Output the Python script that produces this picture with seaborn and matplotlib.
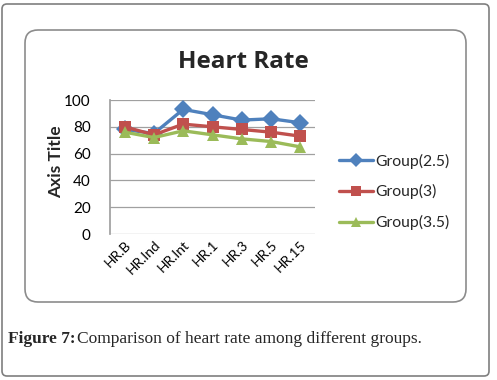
import pandas as pd
import seaborn as sns
import matplotlib.pyplot as plt
from matplotlib.patches import FancyBboxPatch
from matplotlib.transforms import IdentityTransform

categories = ["HR.B", "HR.Ind", "HR.Int", "HR.1", "HR.3", "HR.5", "HR.15"]
group_25 = [78, 75, 93, 89, 85, 86, 83]
group_3 = [80, 74, 82, 80, 78, 76, 73]
group_35 = [76, 72, 77, 74, 71, 69, 65]
series_names = ["Group(2.5)", "Group(3)", "Group(3.5)"]

rows = []
for name, vals in zip(series_names, [group_25, group_3, group_35]):
    for c, v in zip(categories, vals):
        rows.append({"cat": c, "value": v, "group": name})
df = pd.DataFrame(rows)

sns.set_theme(style="white")
plt.rcParams['font.family'] = ['Lato', 'DejaVu Sans']

W, H = 497, 380
fig = plt.figure(figsize=(W / 100, H / 100), dpi=100)

# outer frame and inner chart box (pixel coords)
outer = FancyBboxPatch((2, 4), 487, 372, boxstyle="round,pad=0,rounding_size=5",
                       transform=IdentityTransform(), fill=False, edgecolor="#7f7f7f", lw=1.2)
inner = FancyBboxPatch((25, 78), 441, 272, boxstyle="round,pad=0,rounding_size=13",
                       transform=IdentityTransform(), fill=False, edgecolor="#8c8c8c", lw=1.2)
fig.patches.extend([outer, inner])

ax = fig.add_axes([110 / W, (H - 234) / H, 205 / W, 134 / H])
palette = {"Group(2.5)": "#4F81BD", "Group(3)": "#C0504D", "Group(3.5)": "#9BBB59"}
markers = {"Group(2.5)": "D", "Group(3)": "s", "Group(3.5)": "^"}
sns.lineplot(data=df, x="cat", y="value", hue="group", style="group", markers=markers,
             dashes=False, palette=palette, linewidth=2.4, markersize=9,
             markeredgewidth=0, sort=False, ax=ax)

ax.set_ylim(0, 100)
ax.set_yticks(range(0, 101, 20))
ax.set_xlim(-0.5, len(categories) - 0.5)
ax.grid(axis="y", color="#a0a0a0", lw=0.9)
for s in ["top", "right", "bottom"]:
    ax.spines[s].set_visible(False)
ax.spines["left"].set_color("#a0a0a0")
ax.tick_params(axis="both", length=0, labelsize=11, colors="black")
ax.tick_params(axis="y", pad=14)
plt.setp(ax.get_xticklabels(), rotation=45, ha="right", rotation_mode="anchor", fontsize=10)
ax.set_xlabel("")
ax.set_ylabel("Axis Title", fontsize=12.5, fontweight="bold")
ax.yaxis.set_label_coords(-0.222, 0.54)

leg = ax.legend(loc="center left", bbox_to_anchor=(1.046, 0.315), frameon=False,
                fontsize=11.3, handlelength=2.2, labelspacing=1.0, handletextpad=0.15)
for h in leg.legend_handles:
    h.set_markersize(7.5)

fig.text(243 / W, (H - 62) / H, "Heart Rate", ha="center", va="center",
         fontsize=17.5, fontweight="bold", family=["Open Sans", "DejaVu Sans"])

fig.text(8 / W, (H - 339) / H, "Figure 7:", ha="left", va="center", fontsize=12.5,
         fontweight="bold", family=["Liberation Serif", "DejaVu Serif"])
fig.text(77 / W, (H - 339) / H, "Comparison of heart rate among different groups.",
         ha="left", va="center", fontsize=12.5, family=["Liberation Serif", "DejaVu Serif"])

fig.savefig("out.png", dpi=100)
